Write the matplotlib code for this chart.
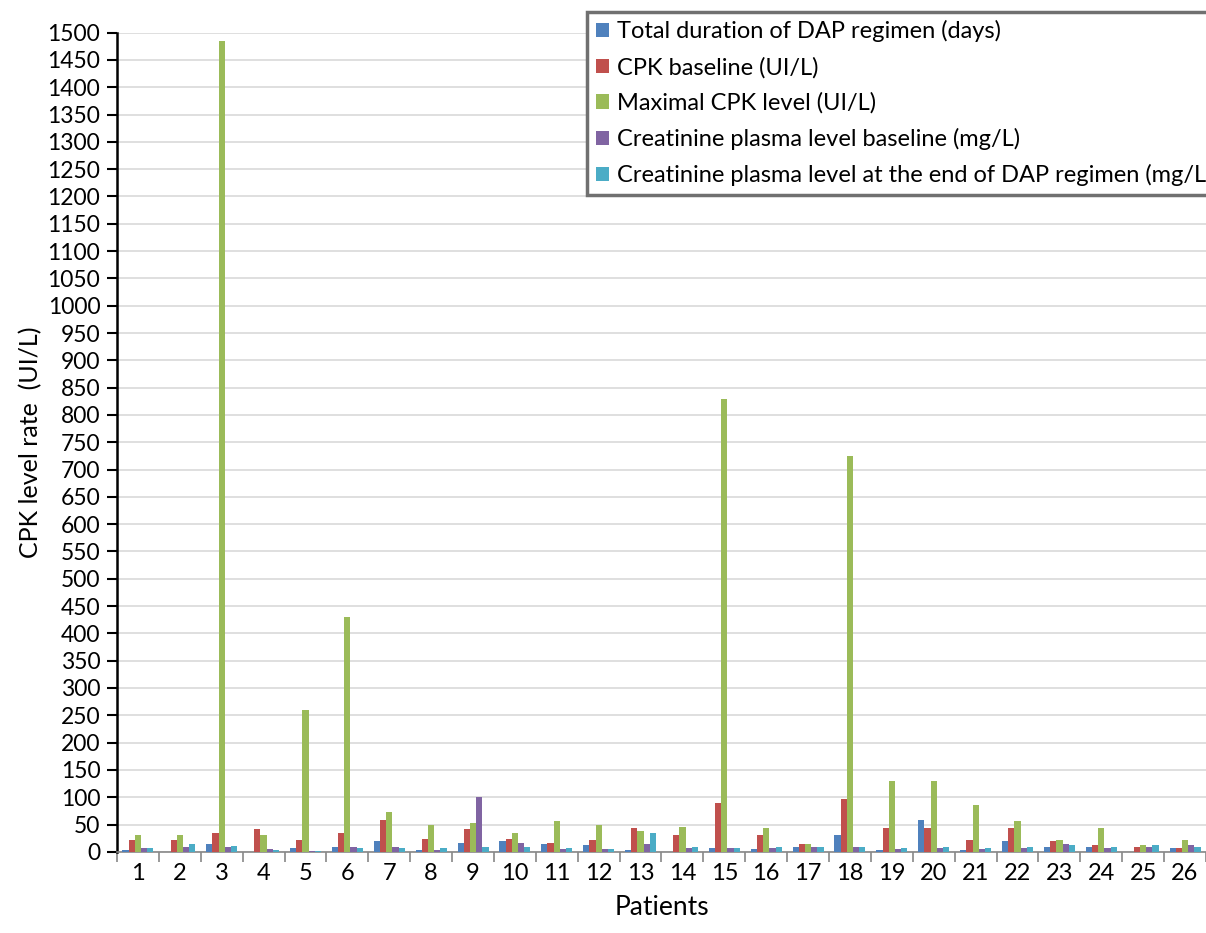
import numpy as np
import matplotlib.pyplot as plt

plt.rcParams['font.family'] = ['Lato', 'DejaVu Sans']

patients = [str(i) for i in range(1, 27)]

duration = [3, 0, 14, 0, 7, 9, 19, 2.5, 16, 19, 14, 12, 2.5, 0, 7,
            5, 9, 30, 2.5, 59, 2.5, 19, 9, 9, 0, 7]
cpk_base = [21, 21, 34, 41, 21, 34, 59, 23, 41, 23, 16, 21, 43, 30, 89,
            30, 14, 96, 43, 43, 21, 43, 19, 12, 9, 7]
cpk_max = [31, 31, 1485, 31, 260, 430, 73, 50, 52, 34, 57, 50, 39, 46, 830,
           43, 14, 725, 129, 129, 86, 57, 21, 43, 12, 21]
creat_base = [7, 9, 9, 5, 2, 9, 9, 4, 100, 16, 5, 5, 14, 7, 7,
              7, 9, 9, 5, 7, 5, 7, 14, 7, 9, 12]
creat_end = [7, 14, 11, 2.5, 2, 7, 7, 7.5, 9, 9, 7.5, 5, 34, 9, 7,
             9, 9, 9, 7, 9, 7, 9, 12, 9, 12, 9]

series = [duration, cpk_base, cpk_max, creat_base, creat_end]
labels = ['Total duration of DAP regimen (days)',
          'CPK baseline (UI/L)',
          'Maximal CPK level (UI/L)',
          'Creatinine plasma level baseline (mg/L)',
          'Creatinine plasma level at the end of DAP regimen (mg/L)']
colors = ['#4F81BD', '#C0504D', '#9BBB59', '#8064A2', '#4BACC6']

fig = plt.figure(figsize=(12.06, 9.33), dpi=100)
ax = fig.add_axes([0.097, 0.087, 0.903, 0.878])

x = np.arange(len(patients))
w = 0.148
for i, (vals, lab, col) in enumerate(zip(series, labels, colors)):
    ax.bar(x + (i - 2) * w, vals, width=w, color=col, label=lab, zorder=3)

ax.set_xlim(-0.5, len(patients) - 0.5)
ax.set_ylim(0, 1500)
ax.set_yticks(np.arange(0, 1501, 50))
ax.yaxis.grid(True, color='#d9d9d9', linewidth=1.2, zorder=0)
ax.set_xticks(x)
ax.set_xticklabels(patients)
ax.set_xticks(np.arange(-0.5, len(patients), 1), minor=True)
ax.tick_params(axis='x', which='major', length=0, labelsize=17, pad=8)
ax.tick_params(axis='x', which='minor', length=7, color='#888888', width=1.2)
ax.tick_params(axis='y', labelsize=16.5, length=7, width=1.5, pad=5)

for s in ['top', 'right']:
    ax.spines[s].set_visible(False)
ax.spines['left'].set_linewidth(1.8)
ax.spines['bottom'].set_color('#888888')
ax.spines['bottom'].set_linewidth(1.2)

ax.set_ylabel('CPK level rate  (UI/L)', fontsize=18, labelpad=4)
ax.set_xlabel('Patients', fontsize=19, labelpad=8)

leg = fig.legend(loc='upper left', bbox_to_anchor=(0.487, 0.987), fontsize=17,
                 handlelength=0.55, handleheight=0.55, handletextpad=0.35,
                 labelspacing=0.6, borderpad=0.35, borderaxespad=0,
                 fancybox=False, framealpha=1)
leg.get_frame().set_edgecolor('#707070')
leg.get_frame().set_linewidth(2.5)

fig.savefig('out.png', dpi=100)
